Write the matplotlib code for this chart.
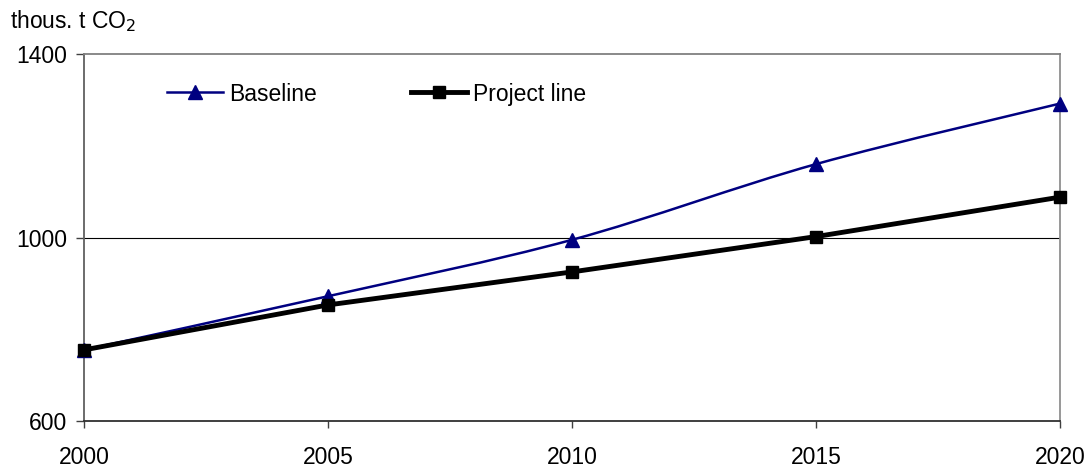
import numpy as np
import matplotlib.pyplot as plt
from matplotlib.path import Path
from matplotlib.patches import PathPatch
from matplotlib.lines import Line2D

# ============================================================
# Baseline vs project line emissions, thous. t CO2
# ============================================================

years = [2000, 2005, 2010, 2015, 2020]
baseline = [755, 872, 995, 1160, 1292]
project_line = [755, 853, 925, 1002, 1088]

y_ticks = [600, 1000, 1400]

plt.rcParams["font.family"] = ["Liberation Sans", "DejaVu Sans"]

BLUE = "#000080"
FS = 16.5


def smooth_path(x, y):
    """Excel-like smoothed line: cubic Bezier through every point."""
    pts = np.column_stack([x, y]).astype(float)
    ext = np.vstack([pts[0], pts, pts[-1]])
    verts = [pts[0]]
    codes = [Path.MOVETO]
    for i in range(len(pts) - 1):
        p0, p1, p2, p3 = ext[i], ext[i + 1], ext[i + 2], ext[i + 3]
        c1 = p1 + (p2 - p0) / 6.0
        c2 = p2 - (p3 - p1) / 6.0
        verts += [c1, c2, p2]
        codes += [Path.CURVE4] * 3
    return Path(verts, codes)


fig = plt.figure(figsize=(10.85, 4.68), dpi=100)
ax = fig.add_axes([0.0774, 0.1004, 0.977 - 0.0774, 0.8846 - 0.1004])

# baseline: smoothed curve + triangle markers
ax.add_patch(PathPatch(smooth_path(years, baseline), facecolor="none",
                       edgecolor=BLUE, linewidth=1.8, zorder=3))
ax.plot(years, baseline, linestyle="none", marker="^", markersize=10,
        color=BLUE, zorder=4, clip_on=False)

# project line: straight thick black
ax.plot(years, project_line, color="black", linewidth=3.5, marker="s",
        markersize=9, zorder=5, clip_on=False)

ax.set_xlim(2000, 2020)
ax.set_ylim(600, 1400)
ax.set_xticks(years)
ax.set_yticks(y_ticks)
ax.tick_params(axis="x", direction="out", length=5, width=1, pad=13,
               labelsize=FS, color="#404040")
ax.tick_params(axis="y", direction="out", length=6, width=1, pad=6,
               labelsize=FS, color="#404040")

ax.axhline(1000, color="black", linewidth=0.8, zorder=1)

ax.spines["left"].set_color("#606060")
ax.spines["top"].set_color("#808080")
ax.spines["right"].set_color("#909090")
ax.spines["bottom"].set_color("#303030")
for s in ax.spines.values():
    s.set_linewidth(1.3)

ax.text(-0.076, 1.09, "thous. t CO$_2$", transform=ax.transAxes,
        fontsize=FS, ha="left", va="center")

handles = [
    Line2D([], [], color=BLUE, linewidth=1.8, marker="^", markersize=10),
    Line2D([], [], color="black", linewidth=3.5, marker="s", markersize=9),
]
ax.legend(handles, ["Baseline", "Project line"], ncol=2, frameon=False,
          fontsize=FS, loc="center left", bbox_to_anchor=(0.085, 0.891),
          borderpad=0, borderaxespad=0,
          handlelength=2.45, handletextpad=0.26, columnspacing=4.1)

plt.savefig("out.png", dpi=100)
